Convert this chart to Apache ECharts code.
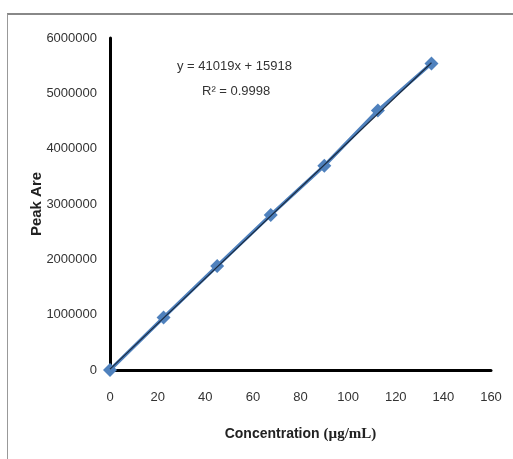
<!DOCTYPE html>
<html>
<head>
<meta charset="utf-8">
<script src="https://cdn.jsdelivr.net/npm/echarts@6/dist/echarts.min.js"></script>
<style>
  html, body { margin: 0; padding: 0; background: #fff; }
  #frame { position: absolute; left: 7px; top: 13px; width: 506px; height: 446px;
           border-top: 2px solid #888; border-left: 1px solid #999; }
  #chart { position: absolute; left: 0; top: 0; width: 513px; height: 459px; }
</style>
</head>
<body>
<div id="frame"></div>
<div id="chart"></div>
<script>
// 浓度 (µg/mL)
var concentration = [0, 22.5, 45, 67.5, 90, 112.5, 135];
// 峰面积
var peakArea = [0, 950000, 1880000, 2800000, 3690000, 4690000, 5540000];
// 趋势线端点
var trendX = [0, 135];
var trendY = [16000, 5553000];
var equationText = 'y = 41019x + 15918';
var r2Text = 'R² = 0.9998';

var labelFont = '"Liberation Sans", Arial, sans-serif';

var myChart = echarts.init(document.getElementById('chart'));
myChart.setOption({
    animation: false,
    grid: {
        left: 110,
        right: 22,
        top: 38,
        bottom: 89
    },
    xAxis: {
        type: 'value',
        min: 0,
        max: 160,
        interval: 20,
        name: '{a|Concentration }{b|(µg/mL)}',
        nameLocation: 'middle',
        nameGap: 57,
        nameMoveOverlap: false,
        nameTextStyle: {
            rich: {
                a: { fontFamily: labelFont, fontSize: 14, fontWeight: 'bold', color: '#222' },
                b: { fontFamily: '"Liberation Serif", serif', fontSize: 15, fontWeight: 'bold', color: '#222' }
            }
        },
        axisLine: { lineStyle: { color: '#000', width: 3 } },
        axisTick: { show: false },
        splitLine: { show: false },
        axisLabel: { color: '#333', fontSize: 13, fontFamily: labelFont, margin: 21 }
    },
    yAxis: {
        type: 'value',
        min: 0,
        max: 6000000,
        interval: 1000000,
        name: 'Peak Are',
        nameLocation: 'middle',
        nameGap: 66,
        nameMoveOverlap: false,
        nameTextStyle: { color: '#222', fontSize: 15, fontWeight: 'bold', fontFamily: 'Liberation Sans, Arial, sans-serif' },
        axisLine: { show: true, lineStyle: { color: '#000', width: 3 } },
        axisTick: { show: false },
        splitLine: { show: false },
        axisLabel: {
            color: '#333', fontSize: 13, fontFamily: labelFont, margin: 13,
            formatter: function (v) { return String(v); }
        }
    },
    series: [{
        type: 'line',
        data: concentration.map(function (x, i) { return [x, peakArea[i]]; }),
        symbol: 'diamond',
        symbolSize: 14,
        lineStyle: { color: '#4f81bd', width: 3.5 },
        itemStyle: { color: '#4f81bd' },
        z: 2
    }, {
        type: 'line',
        data: trendX.map(function (x, i) { return [x, trendY[i]]; }),
        symbol: 'none',
        lineStyle: { color: '#1a2a40', width: 1.2 },
        z: 3
    }],
    graphic: [{
        type: 'text',
        left: 177,
        top: 60,
        style: { text: equationText, fontSize: 13, fontFamily: labelFont, fill: '#333' }
    }, {
        type: 'text',
        left: 202,
        top: 85,
        style: { text: r2Text, fontSize: 13, fontFamily: labelFont, fill: '#333' }
    }]
});
</script>
</body>
</html>
